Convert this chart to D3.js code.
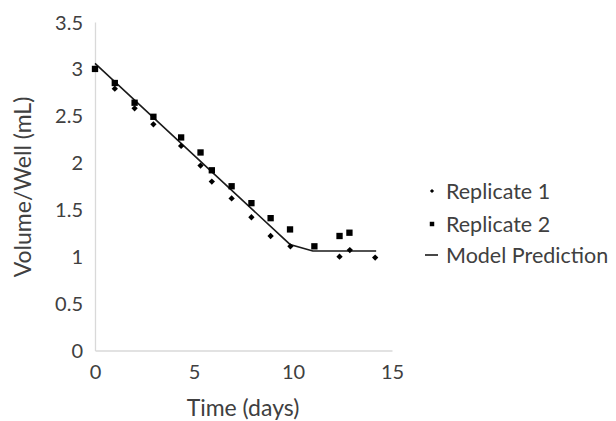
<!DOCTYPE html>
<html>
<head>
<meta charset="utf-8">
<script src="https://cdn.jsdelivr.net/npm/d3@7"></script>
<style>
  body { margin: 0; background: #fff; }
  text { font-family: Lato, "Open Sans", sans-serif; fill: #404040; }
</style>
</head>
<body>
<script>
// data
var rep1Days = [0, 1, 2, 2.95, 4.35, 5.33, 5.9, 6.9, 7.9, 8.87, 9.87, 12.35, 12.87, 14.15];
var rep1Vol  = [3.0, 2.79, 2.58, 2.41, 2.18, 1.97, 1.80, 1.62, 1.42, 1.22, 1.11, 1.00, 1.07, 0.99];
var rep2Days = [0, 1, 2, 2.95, 4.35, 5.33, 5.9, 6.9, 7.9, 8.87, 9.85, 11.08, 12.35, 12.85];
var rep2Vol  = [3.0, 2.85, 2.64, 2.49, 2.27, 2.11, 1.92, 1.75, 1.57, 1.41, 1.29, 1.11, 1.22, 1.255];
var modelDays = [0, 9.85, 11.0, 14.2];
var modelVol  = [3.06, 1.13, 1.06, 1.06];
var xTicks = [0, 5, 10, 15];
var yTicks = [0, 0.5, 1, 1.5, 2, 2.5, 3, 3.5];
var legendLabels = ["Replicate 1", "Replicate 2", "Model Prediction"];

var w = 616, h = 421;

var x = d3.scaleLinear().domain([0, 15]).range([95, 392]);
var y = d3.scaleLinear().domain([0, 3.5]).range([350.5, 22]);

var svg = d3.select("body").append("svg")
    .attr("width", w)
    .attr("height", h);

// axes
var xAxis = svg.append("g")
    .attr("transform", "translate(0," + y(0) + ")")
    .call(d3.axisBottom(x).tickValues(xTicks).tickSize(0).tickPadding(14));
xAxis.select(".domain").attr("stroke", "#d9d9d9").attr("stroke-width", 1.3);
xAxis.selectAll("text").style("font-size", "20px").attr("fill", "#404040");

var yAxis = svg.append("g")
    .attr("transform", "translate(" + x(0) + ",0)")
    .call(d3.axisLeft(y).tickValues(yTicks).tickSize(0).tickPadding(12)
        .tickFormat(function (d) { return d; }));
yAxis.select(".domain").attr("stroke", "#d9d9d9").attr("stroke-width", 1.3);
yAxis.selectAll("text").style("font-size", "20px").attr("fill", "#404040")
    .attr("dy", "0.35em");

// axis titles
svg.append("text")
    .attr("x", 243)
    .attr("y", 416)
    .attr("text-anchor", "middle")
    .style("font-size", "23px")
    .text("Time (days)");

svg.append("text")
    .attr("transform", "translate(31,187) rotate(-90)")
    .attr("text-anchor", "middle")
    .style("font-size", "23px")
    .text("Volume/Well (mL)");

// model line
var line = d3.line()
    .x(function (d) { return x(d[0]); })
    .y(function (d) { return y(d[1]); });

svg.append("path")
    .datum(d3.zip(modelDays, modelVol))
    .attr("d", line)
    .attr("fill", "none")
    .attr("stroke", "#1a1a1a")
    .attr("stroke-width", 1.6);

// replicate 2 squares
svg.selectAll(".rep2")
    .data(d3.zip(rep2Days, rep2Vol))
    .enter()
    .append("path")
    .attr("class", "rep2")
    .attr("d", d3.symbol().type(d3.symbolSquare).size(40))
    .attr("transform", function (d) { return "translate(" + x(d[0]) + "," + y(d[1]) + ")"; })
    .attr("fill", "#000");

// replicate 1 diamonds
svg.selectAll(".rep1")
    .data(d3.zip(rep1Days, rep1Vol))
    .enter()
    .append("path")
    .attr("class", "rep1")
    .attr("d", d3.symbol().type(d3.symbolSquare).size(20))
    .attr("transform", function (d) { return "translate(" + x(d[0]) + "," + y(d[1]) + ") rotate(45)"; })
    .attr("fill", "#000");

// legend
var legend = svg.append("g");
var legendY = [191, 224, 255];

legend.selectAll("text")
    .data(legendLabels)
    .enter()
    .append("text")
    .attr("x", 446)
    .attr("y", function (d, i) { return legendY[i]; })
    .attr("dy", "0.35em")
    .style("font-size", "21.5px")
    .text(function (d) { return d; });

legend.append("path")
    .attr("d", d3.symbol().type(d3.symbolSquare).size(9))
    .attr("transform", "translate(432," + legendY[0] + ") rotate(45)")
    .attr("fill", "#000");
legend.append("path")
    .attr("d", d3.symbol().type(d3.symbolSquare).size(20))
    .attr("transform", "translate(432," + legendY[1] + ")")
    .attr("fill", "#000");
legend.append("line")
    .attr("x1", 425).attr("x2", 438)
    .attr("y1", legendY[2]).attr("y2", legendY[2])
    .attr("stroke", "#1a1a1a")
    .attr("stroke-width", 1.6);
</script>
</body>
</html>
